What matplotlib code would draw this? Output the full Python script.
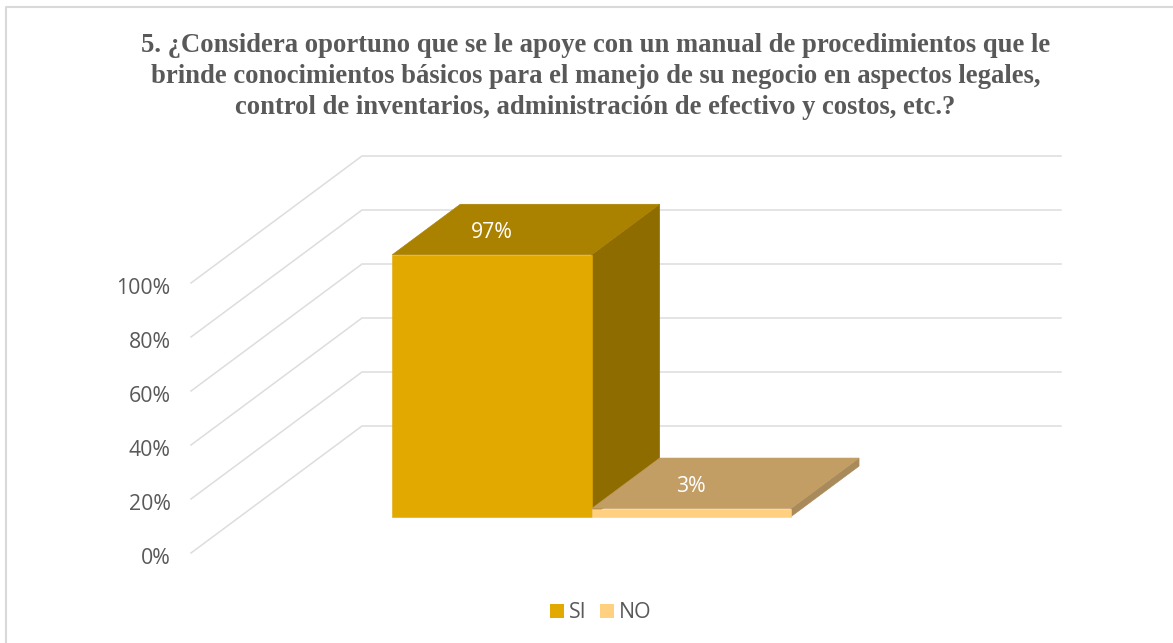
import matplotlib
matplotlib.use("Agg")
import matplotlib.pyplot as plt
from matplotlib.patches import Polygon, Rectangle

title_lines = [
    "5. ¿Considera oportuno que se le apoye con un manual de procedimientos que le",
    "brinde conocimientos básicos para el manejo de su negocio en aspectos legales,",
    "control de inventarios, administración de efectivo y costos, etc.?",
]
categories = ["SI", "NO"]
values = [97, 3]
value_labels = ["97%", "3%"]
axis_ticks = [0, 20, 40, 60, 80, 100]

front_colors = ["#E2AA00", "#FFD07F"]
top_colors = ["#AB8100", "#C29D64"]
side_colors = ["#8F6C00", "#A88A5B"]

W, H = 1173, 643

# oblique projection of the 3D plot box, in pixels
ORIGIN_X, ORIGIN_Y = 191, 553
DEPTH_X, DEPTH_Y = 171, 127
PX_PER_PCT = 2.7
WALL_WIDTH = 699
BAR_WIDTH = 199.4
BAR_LEFT = 152.3
BAR_D0, BAR_D1 = 0.286, 0.684


def proj(x, pct, depth):
    return (ORIGIN_X + x + depth * DEPTH_X, ORIGIN_Y - pct * PX_PER_PCT - depth * DEPTH_Y)


def face(ax, pts, color):
    ax.add_patch(Polygon(pts, closed=True, facecolor=color, edgecolor=color, linewidth=0.4, zorder=3))


def draw_bar(ax, i):
    x0 = BAR_LEFT + i * BAR_WIDTH
    x1 = x0 + BAR_WIDTH
    v = values[i]
    face(ax, [proj(x1, 0, BAR_D0), proj(x1, 0, BAR_D1), proj(x1, v, BAR_D1), proj(x1, v, BAR_D0)], side_colors[i])
    face(ax, [proj(x0, v, BAR_D0), proj(x1, v, BAR_D0), proj(x1, v, BAR_D1), proj(x0, v, BAR_D1)], top_colors[i])
    face(ax, [proj(x0, 0, BAR_D0), proj(x1, 0, BAR_D0), proj(x1, v, BAR_D0), proj(x0, v, BAR_D0)], front_colors[i])
    # value label sits over the top face, centred on the front edge
    lx = proj((x0 + x1) / 2, v, BAR_D0)[0]
    ly = proj(x0, v, (BAR_D0 + BAR_D1) / 2)[1]
    ax.text(lx, ly + 3, value_labels[i], color="white", fontsize=15.3, family="Open Sans",
            ha="center", va="center", zorder=4)


def main():
    fig = plt.figure(figsize=(W / 100, H / 100), dpi=100)
    ax = fig.add_axes([0, 0, 1, 1])
    ax.set_xlim(0, W)
    ax.set_ylim(H, 0)
    ax.axis("off")

    # outer chart border
    ax.plot([6, 6, W + 2], [H + 2, 7, 7], color="#D9D9D9", lw=1.5, zorder=1)

    for y, line in zip([52, 83, 113.5], title_lines):
        ax.text(595.5, y, line, family="Liberation Serif", fontweight="bold", fontsize=19.17,
                color="#595959", ha="center", va="baseline")

    for t in axis_ticks:
        pts = [proj(0, t, 0), proj(0, t, 1), proj(WALL_WIDTH, t, 1)]
        ax.plot([p[0] for p in pts], [p[1] for p in pts], color="#DDDDDD", lw=1.1, zorder=2)
        ax.text(170.5, proj(0, t, 0)[1] + 5, f"{t}%", family="Open Sans", fontsize=15.3,
                color="#595959", ha="right", va="center")

    for i in range(len(values)):
        draw_bar(ax, i)

    # legend
    for x, name, color in zip([550, 600], categories, front_colors):
        ax.add_patch(Rectangle((x, 604), 14, 14, facecolor=color, edgecolor="none"))
        ax.text(x + 19, 613, name, family="Open Sans", fontsize=15.3, color="#595959",
                ha="left", va="center")

    fig.savefig("out.png", dpi=100)


if __name__ == "__main__":
    main()
